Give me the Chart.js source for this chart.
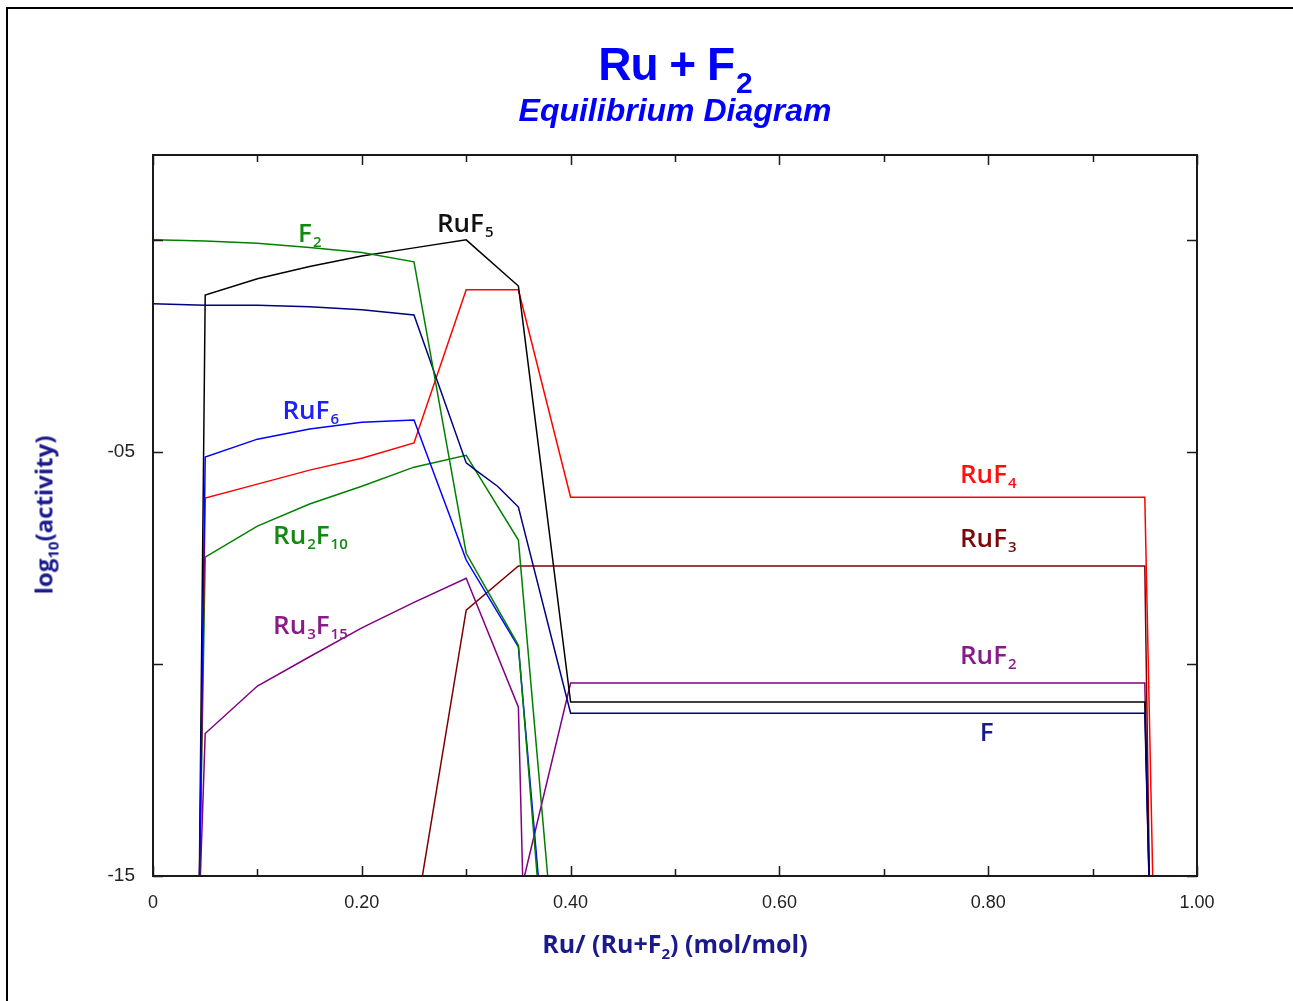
<!DOCTYPE html>
<html>
<head>
<meta charset="utf-8">
<script src="https://cdn.jsdelivr.net/npm/chart.js@4.4.0/dist/chart.umd.min.js"></script>
<style>
  html, body { margin: 0; padding: 0; background: #fff; }
  body { width: 1293px; height: 1001px; position: relative; overflow: hidden; font-family: "Liberation Sans", Arial, sans-serif; }
  #frame { position: absolute; left: 6px; top: 7px; width: 1300px; height: 1000px; border-top: 2px solid #000; border-left: 2px solid #000; }
  #c { position: absolute; left: 0; top: 0; }
  .title { position: absolute; left: 175px; width: 1000px; text-align: center; color: #0000ff; font-weight: bold; white-space: nowrap; }
  #t1 { top: 38px; font-size: 46px; line-height: 52px; letter-spacing: -1px; }
  #t1 .sub { font-size: 30px; position: relative; top: 13px; margin-left: 2px; }
  #t2 { top: 92px; font-size: 32px; line-height: 36px; font-style: italic; }
  .axt { position: absolute; color: #1a1a8c; font-family: "Open Sans", sans-serif; font-weight: bold; white-space: nowrap; }
  .axt .sub { font-size: 15px; position: relative; top: 6px; }
  #xt { left: 175px; width: 1000px; text-align: center; top: 928px; line-height: 30px; font-size: 25px; }
  #yt { left: 45px; top: 515px; transform: translate(-50%, -50%) rotate(-90deg); line-height: 30px; font-size: 24px; }
</style>
</head>
<body>
<div id="frame"></div>
<canvas id="c" width="1293" height="1001"></canvas>
<div class="title" id="t1">Ru + F<span class="sub">2</span></div>
<div class="title" id="t2">Equilibrium Diagram</div>
<div class="axt" id="xt">Ru/ (Ru+F<span class="sub">2</span>) (mol/mol)</div>
<div class="axt" id="yt">log<span class="sub">10</span>(activity)</div>
<script>
// axis ticks
const xTickValues = [0, 0.1, 0.2, 0.3, 0.4, 0.5, 0.6, 0.7, 0.8, 0.9, 1.0];
const xTickLabels = ['0', '', '0.20', '', '0.40', '', '0.60', '', '0.80', '', '1.00'];
const yTickValues = [-15, -10, -5, 0];
const yTickLabels = ['-15', '', '-05', ''];

// log10(activity), x = Ru/(Ru+F2)
const f2X = [0, 0.05, 0.1, 0.15, 0.2, 0.25, 0.3, 0.35, 0.4];
const f2Y = [0.0, -0.03, -0.08, -0.18, -0.30, -0.52, -7.39, -9.56, -24.7];

const fX = [0, 0.05, 0.1, 0.15, 0.2, 0.25, 0.3, 0.31, 0.33, 0.35, 0.4, 0.95, 0.955];
const fY = [-1.51, -1.54, -1.54, -1.58, -1.65, -1.77, -5.26, -5.45, -5.81, -6.30, -11.16, -11.16, -16];

const ruF6X = [0.044, 0.05, 0.1, 0.15, 0.2, 0.25, 0.3, 0.35, 0.4];
const ruF6Y = [-16, -5.12, -4.70, -4.46, -4.30, -4.25, -7.55, -9.60, -23.8];

const ruF5X = [0.044, 0.05, 0.1, 0.15, 0.2, 0.25, 0.3, 0.35, 0.4, 0.95, 0.955];
const ruF5Y = [-16, -1.30, -0.92, -0.63, -0.38, -0.19, 0.0, -1.09, -10.9, -10.9, -16];

const ruF4X = [0.044, 0.05, 0.1, 0.15, 0.2, 0.25, 0.3, 0.35, 0.4, 0.95, 0.958];
const ruF4Y = [-16, -6.09, -5.76, -5.43, -5.15, -4.79, -1.18, -1.18, -6.07, -6.07, -15.5];

const ru2F10X = [0.044, 0.05, 0.1, 0.15, 0.2, 0.25, 0.3, 0.35, 0.4];
const ru2F10Y = [-16, -7.48, -6.75, -6.23, -5.81, -5.36, -5.08, -7.08, -21.2];

const ru3F15X = [0.044, 0.05, 0.1, 0.15, 0.2, 0.25, 0.3, 0.35, 0.4];
const ru3F15Y = [-16, -11.64, -10.52, -9.83, -9.15, -8.55, -7.98, -11.02, -60];

const ruF3X = [0.25, 0.3, 0.35, 0.4, 0.95, 0.955];
const ruF3Y = [-16.2, -8.73, -7.69, -7.69, -7.69, -16];

const ruF2X = [0.35, 0.4, 0.95, 0.955];
const ruF2Y = [-15.6, -10.45, -10.45, -16];

// species labels placed in data units
const labelTexts = ['F_2', 'RuF_5', 'RuF_6', 'Ru_2F_10', 'Ru_3F_15', 'RuF_4', 'RuF_3', 'RuF_2', 'F'];
const labelX = [0.139, 0.272, 0.124, 0.115, 0.115, 0.773, 0.773, 0.773, 0.792];
const labelY = [0.16, 0.40, -4.01, -6.96, -9.08, -5.52, -7.03, -9.79, -11.61];
const labelColors = ['#108a10', '#111111', '#2020ff', '#108a10', '#8a1a8a', '#ff1010', '#7a0a0a', '#8a1a8a', '#1a1a8c'];

function pts(xs, ys) {
  return xs.map((x, i) => ({ x: x, y: ys[i] }));
}

function line(label, xs, ys, color) {
  return {
    label: label,
    data: pts(xs, ys),
    showLine: true,
    borderColor: color,
    backgroundColor: color,
    borderWidth: 1.5,
    pointRadius: 0,
    tension: 0
  };
}

const datasets = [
  line('F2', f2X, f2Y, '#008000'),
  line('F', fX, fY, '#000080'),
  line('RuF6', ruF6X, ruF6Y, '#0000ff'),
  line('RuF5', ruF5X, ruF5Y, '#000000'),
  line('RuF4', ruF4X, ruF4Y, '#ff0000'),
  line('Ru2F10', ru2F10X, ru2F10Y, '#008000'),
  line('Ru3F15', ru3F15X, ru3F15Y, '#800080'),
  line('RuF3', ruF3X, ruF3Y, '#800000'),
  line('RuF2', ruF2X, ruF2Y, '#800080')
];

// box round the plot, ticks pointing inward on all four sides
const framePlugin = {
  id: 'frame',
  afterDatasetsDraw(chart) {
    const c = chart.ctx;
    const a = chart.chartArea;
    const sx = chart.scales.x, sy = chart.scales.y;
    c.save();
    c.strokeStyle = '#1a1a1a';
    c.lineWidth = 2;
    c.strokeRect(a.left, a.top, a.right - a.left, a.bottom - a.top);
    c.lineWidth = 1.5;
    c.beginPath();
    xTickValues.forEach((v, i) => {
      const px = Math.round(sx.getPixelForValue(v)) + 0.5;
      const len = xTickLabels[i] ? 10 : 7;
      c.moveTo(px, a.bottom); c.lineTo(px, a.bottom - len);
      c.moveTo(px, a.top); c.lineTo(px, a.top + len);
    });
    yTickValues.forEach(v => {
      const py = Math.round(sy.getPixelForValue(v)) + 0.5;
      c.moveTo(a.left, py); c.lineTo(a.left + 10, py);
      c.moveTo(a.right, py); c.lineTo(a.right - 10, py);
    });
    c.stroke();
    c.restore();
  }
};

const labelPlugin = {
  id: 'speciesLabels',
  afterDatasetsDraw(chart) {
    const c = chart.ctx;
    const sx = chart.scales.x, sy = chart.scales.y;
    c.save();
    c.textBaseline = 'alphabetic';
    c.textAlign = 'left';
    labelTexts.forEach((t, i) => {
      let px = sx.getPixelForValue(labelX[i]);
      const base = sy.getPixelForValue(labelY[i]) + 9;
      c.fillStyle = labelColors[i];
      t.split(/(_\d+)/).forEach(part => {
        if (!part) return;
        if (part[0] === '_') {
          c.font = '600 15px "Open Sans", sans-serif';
          c.fillText(part.slice(1), px + 1, base + 5);
          px += c.measureText(part.slice(1)).width + 1;
        } else {
          c.font = '600 26px "Open Sans", sans-serif';
          c.fillText(part, px, base);
          px += c.measureText(part).width;
        }
      });
    });
    c.restore();
  }
};

const myChart = new Chart(document.getElementById('c'), {
  type: 'scatter',
  data: { datasets: datasets },
  options: {
    responsive: false,
    animation: false,
    layout: { padding: { left: 0, top: 155, right: 96, bottom: 0 } },
    plugins: { legend: { display: false }, tooltip: { enabled: false } },
    scales: {
      x: {
        type: 'linear', min: 0, max: 1,
        afterBuildTicks: s => { s.ticks = xTickValues.map(v => ({ value: v })); },
        afterFit: s => { s.height = 125; },
        grid: { display: false, drawTicks: false },
        border: { display: false },
        ticks: {
          autoSkip: false, maxRotation: 0, padding: 16, color: '#222',
          font: { family: '"Liberation Sans", Arial, sans-serif', size: 18 },
          callback: v => xTickLabels[xTickValues.indexOf(v)]
        }
      },
      y: {
        type: 'linear', min: -15, max: 2,
        afterBuildTicks: s => { s.ticks = yTickValues.map(v => ({ value: v })); },
        afterFit: s => { s.width = 153; },
        grid: { display: false, drawTicks: false },
        border: { display: false },
        ticks: {
          padding: 18, color: '#222',
          font: { family: '"Liberation Sans", Arial, sans-serif', size: 19 },
          callback: v => yTickLabels[yTickValues.indexOf(v)]
        }
      }
    }
  },
  plugins: [framePlugin, labelPlugin]
});
</script>
</body>
</html>
